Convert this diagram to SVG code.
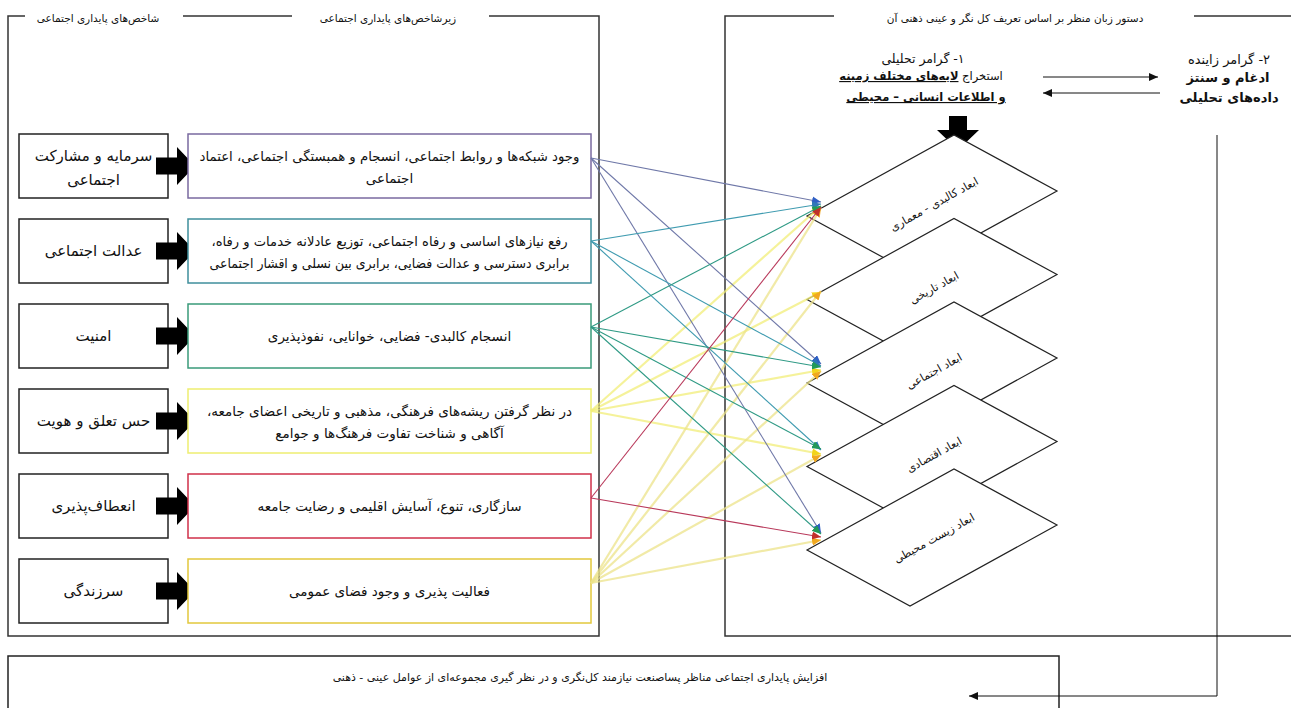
<svg xmlns="http://www.w3.org/2000/svg" width="1291" height="708" viewBox="0 0 1291 708">
<style>
text{font-family:"DejaVu Sans","Noto Sans",sans-serif;fill:#111;direction:rtl;text-anchor:middle}
.hd{font-size:10.5px}
.lb{font-size:15px}
.sb{font-size:13.5px}
.dm{font-size:11px}
.gl{font-size:11.5px}
.gr{font-size:13px}
.bt{font-size:11px}
.b{font-weight:bold}
.u{text-decoration:underline}
.frame{fill:none;stroke:#333;stroke-width:1.5}
.box{fill:#fff;stroke:#222;stroke-width:1.5}
.sbox{fill:#fff;stroke-width:1.5}
.dia{fill:#fff;stroke:#222;stroke-width:1.2}
.blk{fill:#000}
.ln{fill:none;stroke:#111;stroke-width:1}
.c1{stroke:#6f78a8;stroke-width:1.1;fill:none}
.c2{stroke:#3f9bb0;stroke-width:1.1;fill:none}
.c3{stroke:#2f9a85;stroke-width:1.1;fill:none}
.c4{stroke:#f2ee78;stroke-width:2.2;fill:none;stroke-opacity:.75}
.c5{stroke:#b8385a;stroke-width:1.1;fill:none}
.c6{stroke:#ece38a;stroke-width:2.2;fill:none;stroke-opacity:.75}
</style>
<defs>
<path id="blkArrow" d="M0,-8.5 H21 V-19 L39,0 L21,19 V8.5 H0 Z"/>
<marker id="mBlk" markerUnits="userSpaceOnUse" markerWidth="9" markerHeight="8" refX="9" refY="4" orient="auto"><path d="M0,0 L9,4 L0,8 Z" fill="#111"/></marker>
<marker id="m1" markerUnits="userSpaceOnUse" markerWidth="9" markerHeight="8" refX="9" refY="4" orient="auto"><path d="M0,0 L9,4 L0,8 Z" fill="#2f5fc4"/></marker>
<marker id="m2" markerUnits="userSpaceOnUse" markerWidth="9" markerHeight="8" refX="9" refY="4" orient="auto"><path d="M0,0 L9,4 L0,8 Z" fill="#2f78b8"/></marker>
<marker id="m3" markerUnits="userSpaceOnUse" markerWidth="9" markerHeight="8" refX="9" refY="4" orient="auto"><path d="M0,0 L9,4 L0,8 Z" fill="#239a58"/></marker>
<marker id="m4" markerUnits="userSpaceOnUse" markerWidth="9" markerHeight="8" refX="9" refY="4" orient="auto"><path d="M0,0 L9,4 L0,8 Z" fill="#f2d41c"/></marker>
<marker id="m5" markerUnits="userSpaceOnUse" markerWidth="9" markerHeight="8" refX="9" refY="4" orient="auto"><path d="M0,0 L9,4 L0,8 Z" fill="#c0302a"/></marker>
<marker id="m6" markerUnits="userSpaceOnUse" markerWidth="9" markerHeight="8" refX="9" refY="4" orient="auto"><path d="M0,0 L9,4 L0,8 Z" fill="#f0a820"/></marker>
</defs>
<rect width="1291" height="708" fill="#fff"/>

<g id="left-frame">
<path class="frame" d="M25,16 H8 V636 H599 V16 H489 M292,16 H183"/>
<text class="hd" x="98" y="22">شاخص‌های پایداری اجتماعی</text>
<text class="hd" x="388" y="22">زیرشاخص‌های پایداری اجتماعی</text>
</g>

<g id="right-frame">
<path class="frame" d="M834,16 H725 V636 H1295 M1194,16 H1295"/>
<text class="hd" x="1015" y="22">دستور زبان منظر بر اساس تعریف کل نگر و عینی ذهنی آن</text>
</g>

<g id="indicator-1"><rect class="box" x="19" y="134" width="149" height="64"/><text class="lb" x="93.5" y="161">سرمایه و مشارکت</text><text class="lb" x="93.5" y="185">اجتماعی</text></g>
<g id="indicator-2"><rect class="box" x="19" y="219" width="149" height="64"/><text class="lb" x="93.5" y="256">عدالت اجتماعی</text></g>
<g id="indicator-3"><rect class="box" x="19" y="304" width="149" height="64"/><text class="lb" x="93.5" y="341">امنیت</text></g>
<g id="indicator-4"><rect class="box" x="19" y="389" width="149" height="64"/><text class="lb" x="93.5" y="426">حس تعلق و هویت</text></g>
<g id="indicator-5"><rect class="box" x="19" y="474" width="149" height="64"/><text class="lb" x="93.5" y="511">انعطاف‌پذیری</text></g>
<g id="indicator-6"><rect class="box" x="19" y="559" width="149" height="64"/><text class="lb" x="93.5" y="596">سرزندگی</text></g>

<g id="block-arrows">
<use href="#blkArrow" class="blk" x="156" y="166"/>
<use href="#blkArrow" class="blk" x="156" y="251"/>
<use href="#blkArrow" class="blk" x="156" y="336"/>
<use href="#blkArrow" class="blk" x="156" y="421"/>
<use href="#blkArrow" class="blk" x="156" y="506"/>
<use href="#blkArrow" class="blk" x="156" y="591"/>
</g>

<g id="sub-1"><rect class="sbox" stroke="#7a6aa0" x="188" y="134" width="403" height="64"/><text class="sb" x="389.5" y="161" textLength="380" lengthAdjust="spacingAndGlyphs">وجود شبکه‌ها و روابط اجتماعی، انسجام و همبستگی اجتماعی، اعتماد</text><text class="sb" x="389.5" y="183">اجتماعی</text></g>
<g id="sub-2"><rect class="sbox" stroke="#3f8f9c" x="188" y="219" width="403" height="64"/><text class="sb" x="389.5" y="246" textLength="356" lengthAdjust="spacingAndGlyphs">رفع نیازهای اساسی و رفاه اجتماعی، توزیع عادلانه خدمات و رفاه،</text><text class="sb" x="389.5" y="268" textLength="360" lengthAdjust="spacingAndGlyphs">برابری دسترسی و عدالت فضایی، برابری بین نسلی و اقشار اجتماعی</text></g>
<g id="sub-3"><rect class="sbox" stroke="#3a9a7a" x="188" y="304" width="403" height="64"/><text class="sb" x="389.5" y="341">انسجام کالبدی- فضایی، خوانایی، نفوذپذیری</text></g>
<g id="sub-4"><rect class="sbox" stroke="#eeee70" stroke-width="2" x="188" y="389" width="403" height="64"/><text class="sb" x="389.5" y="416">در نظر گرفتن ریشه‌های فرهنگی، مذهبی و تاریخی اعضای جامعه،</text><text class="sb" x="389.5" y="438">آگاهی و شناخت تفاوت فرهنگ‌ها و جوامع</text></g>
<g id="sub-5"><rect class="sbox" stroke="#d0304a" x="188" y="474" width="403" height="64"/><text class="sb" x="389.5" y="511">سازگاری، تنوع، آسایش اقلیمی و رضایت جامعه</text></g>
<g id="sub-6"><rect class="sbox" stroke="#e2c83c" x="188" y="559" width="403" height="64"/><text class="sb" x="389.5" y="596">فعالیت پذیری و وجود فضای عمومی</text></g>

<g id="analytic-grammar">
<text class="gl" style="font-size:12.5px" x="923" y="63">۱- گرامر تحلیلی</text>
<text class="gl" x="921" y="80">استخراج <tspan class="b u">لایه‌های مختلف زمینه</tspan></text>
<text class="gl b u" x="926" y="101">و اطلاعات انسانی – محیطی</text>
<path class="blk" d="M949,116 H967 V130 H979 L958,150 L937,130 H949 Z"/>
</g>

<g id="generative-grammar">
<text class="gr" x="1229" y="64">۲- گرامر زاینده</text>
<text class="gr b" x="1228" y="82">ادغام و سنتز</text>
<text class="gr b" x="1229" y="102">داده‌های تحلیلی</text>
</g>

<g id="dim-1"><polygon class="dia" points="807,216 954,135 1057,191 910,272"/><text class="dm" transform="translate(934,204) rotate(-29)" x="0" y="4">ابعاد کالبدی - معماری</text></g>
<g id="dim-2"><polygon class="dia" points="807,299.5 954,218.5 1057,274.5 910,355.5"/><text class="dm" transform="translate(934,287.5) rotate(-29)" x="0" y="4">ابعاد تاریخی</text></g>
<g id="dim-3"><polygon class="dia" points="807,383 954,302 1057,358 910,439"/><text class="dm" transform="translate(934,371) rotate(-29)" x="0" y="4">ابعاد اجتماعی</text></g>
<g id="dim-4"><polygon class="dia" points="807,466.5 954,385.5 1057,441.5 910,522.5"/><text class="dm" transform="translate(934,454.5) rotate(-29)" x="0" y="4">ابعاد اقتصادی</text></g>
<g id="dim-5"><polygon class="dia" points="807,550 954,469 1057,525 910,606"/><text class="dm" transform="translate(934,538) rotate(-29)" x="0" y="4">ابعاد زیست محیطی</text></g>

<g id="result">
<rect class="box" x="8" y="656" width="1051" height="70"/>
<text class="bt" x="580" y="681">افزایش پایداری اجتماعی مناظر پساصنعت نیازمند کل‌نگری و در نظر گیری مجموعه‌ای از عوامل عینی - ذهنی</text>
</g>

<g id="connectors">
<path class="ln" d="M1043,77 H1158" marker-end="url(#mBlk)"/>
<path class="ln" d="M1160,93 H1043" marker-end="url(#mBlk)"/>
<path class="ln" stroke="#555" d="M1217,135 V696 H969" marker-end="url(#mBlk)"/>

<path class="c4" d="M591,411 L821,206" marker-end="url(#m4)"/>
<path class="c4" d="M591,411 L821,292" marker-end="url(#m4)"/>
<path class="c4" d="M591,411 L821,370" marker-end="url(#m4)"/>
<path class="c4" d="M591,411 L821,454" marker-end="url(#m4)"/>
<path class="c6" d="M591,583 L821,208" marker-end="url(#m6)"/>
<path class="c6" d="M591,583 L821,291" marker-end="url(#m6)"/>
<path class="c6" d="M591,583 L821,371" marker-end="url(#m6)"/>
<path class="c6" d="M591,583 L821,455" marker-end="url(#m6)"/>
<path class="c6" d="M591,583 L821,540" marker-end="url(#m6)"/>

<path class="c1" d="M591,158 L821,202" marker-end="url(#m1)"/>
<path class="c1" d="M591,158 L821,364" marker-end="url(#m1)"/>
<path class="c1" d="M591,158 L821,533" marker-end="url(#m1)"/>
<path class="c2" d="M591,241 L821,204" marker-end="url(#m2)"/>
<path class="c2" d="M591,241 L821,366" marker-end="url(#m2)"/>
<path class="c2" d="M591,241 L821,450" marker-end="url(#m2)"/>
<path class="c3" d="M591,327 L821,206" marker-end="url(#m3)"/>
<path class="c3" d="M591,327 L821,367" marker-end="url(#m3)"/>
<path class="c3" d="M591,327 L821,449" marker-end="url(#m3)"/>
<path class="c3" d="M591,327 L821,534" marker-end="url(#m3)"/>
<path class="c5" d="M591,498 L821,207" marker-end="url(#m5)"/>
<path class="c5" d="M591,498 L821,537" marker-end="url(#m5)"/>
</g>
</svg>
